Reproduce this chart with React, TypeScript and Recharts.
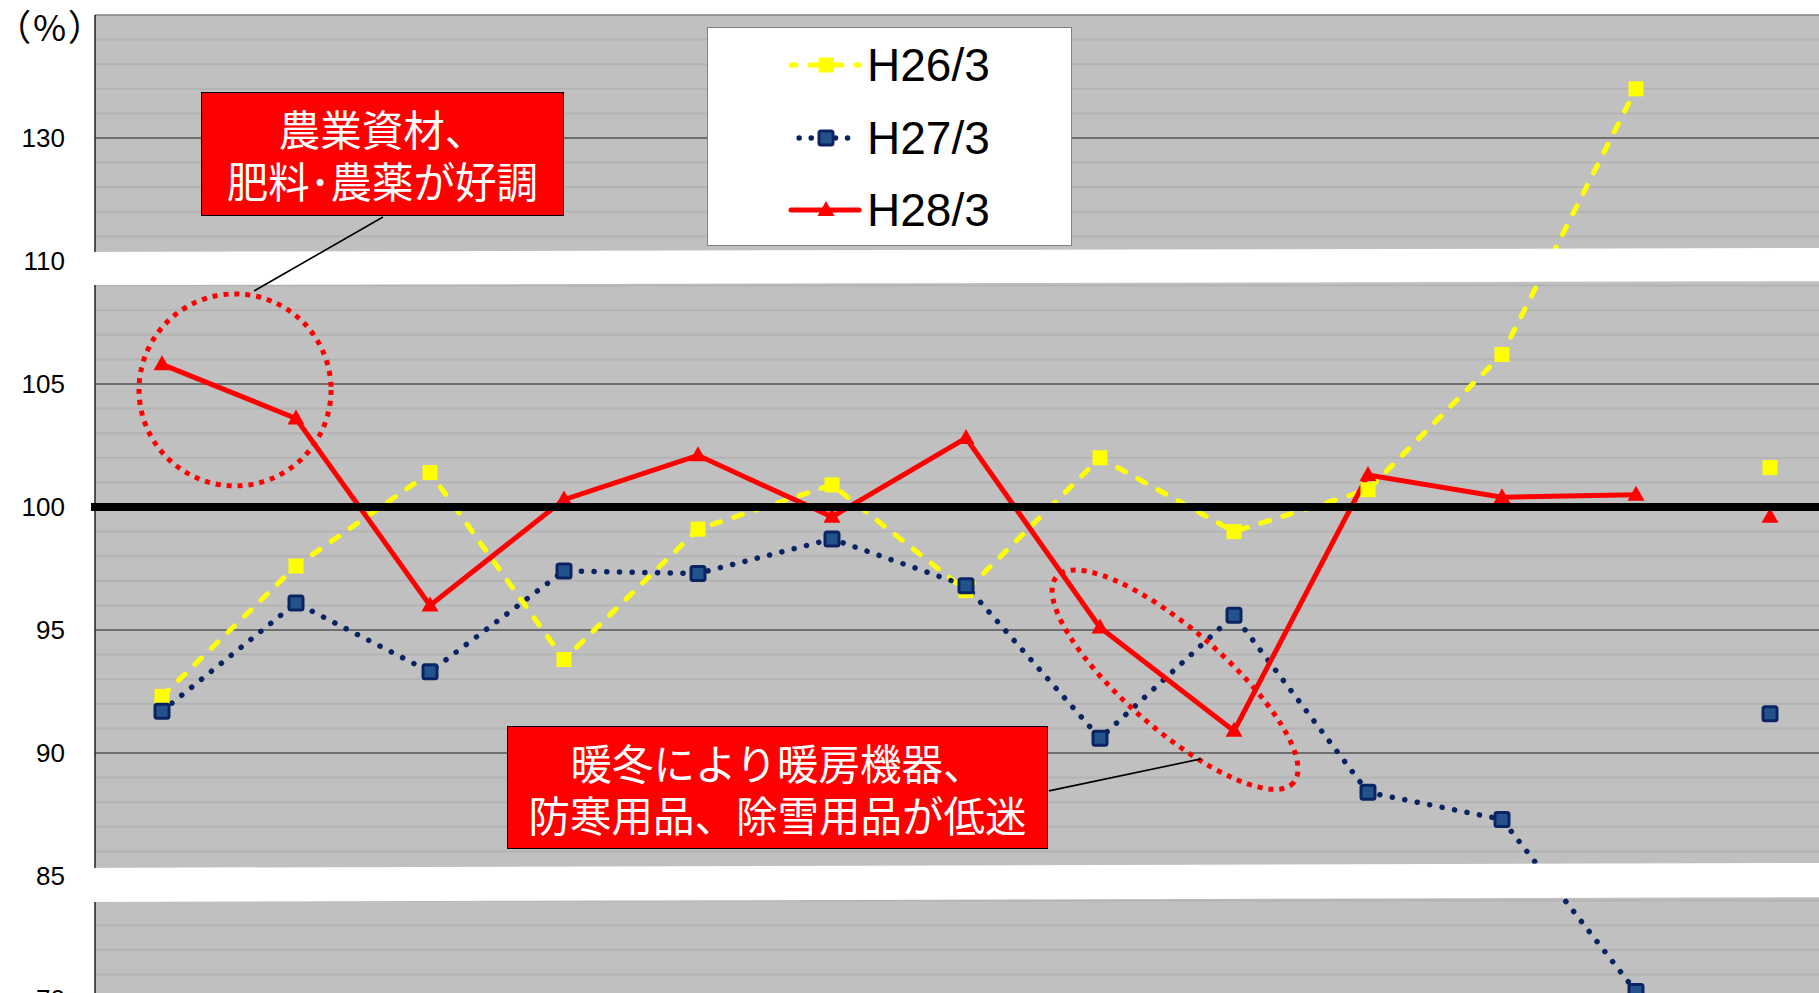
import React from 'react'
import {
  LineChart,
  Line,
  XAxis,
  YAxis,
  CartesianGrid,
  ReferenceLine,
  ReferenceArea,
  ReferenceDot,
  Legend,
} from 'recharts'

// Monthly year-on-year ratios (%), the 13th entry is the fiscal-year total
const CATEGORIES = ['4月', '5月', '6月', '7月', '8月', '9月', '10月', '11月', '12月', '1月', '2月', '3月', '年度']
const H26 = [92.3, 97.6, 101.4, 93.8, 99.1, 100.9, 96.6, 102.0, 99.0, 100.7, 106.2, 138.0, 101.6]
const H27 = [91.7, 96.1, 93.3, 97.4, 97.3, 98.7, 96.8, 90.6, 95.6, 88.4, 87.3, 70.9, 91.6]
const H28 = [105.8, 103.6, 96.0, 100.3, 102.1, 99.6, 102.8, 95.1, 90.9, 101.3, 100.4, 100.5, 99.6]
const Y_TICKS = [130, 110, 105, 100, 95, 90, 85, 70]
const SERIES_NAMES = ['H26/3', 'H27/3', 'H28/3']

// Broken axis: above 110 one step is 4 points, below 85 one step is 3 points
const toAxis = (v: number) => (v > 110 ? 110 + (v - 110) / 4 : v < 85 ? 85 - (85 - v) / 3 : v)
const fromAxis = (a: number) => Math.round(a > 110 ? 110 + (a - 110) * 4 : a < 85 ? 85 - (85 - a) * 3 : a)

const LAST = CATEGORIES.length - 1
const data = CATEGORIES.map((name, k) => ({
  i: k + 1,
  name,
  h26: k < LAST ? toAxis(H26[k]) : null,
  h27: k < LAST ? toAxis(H27[k]) : null,
  h28: k < LAST ? toAxis(H28[k]) : null,
  h26y: k === LAST ? toAxis(H26[k]) : null,
  h27y: k === LAST ? toAxis(H27[k]) : null,
  h28y: k === LAST ? toAxis(H28[k]) : null,
}))

const AXIS_MIN = 78
const AXIS_MAX = 120
const MAJOR = [80, 85, 90, 95, 105, 110, 115]
const MINOR: number[] = []
for (let a = AXIS_MIN + 1; a < AXIS_MAX; a++) if (!MAJOR.includes(a) && a !== 100) MINOR.push(a)

const YELLOW = '#ffff00'
const NAVY = '#0a2463'
const RED = '#ff0000'

const yellowSquare = (cx: number, cy: number) => (
  <rect x={cx - 7.5} y={cy - 7.5} width={15} height={15} fill={YELLOW} />
)
const navySquare = (cx: number, cy: number) => (
  <rect x={cx - 7} y={cy - 7} width={14} height={14} rx={2} fill="#24528c" stroke={NAVY} strokeWidth={3} />
)
const redTriangle = (cx: number, cy: number) => (
  <path d={`M${cx},${cy - 9} L${cx + 8.5},${cy + 6} L${cx - 8.5},${cy + 6} Z`} fill={RED} />
)

const makeDot = (draw: (cx: number, cy: number) => React.ReactElement) => (p: any) => {
  if (p.cx == null || p.cy == null || p.value == null) return <g key={`d${p.index}`} />
  return <g key={`d${p.index}`}>{draw(p.cx, p.cy)}</g>
}

const Band = (tilt: number) => (p: any) => {
  const { x, y, width, height } = p
  return (
    <path
      d={`M${x - 20},${y} L${x + width + 20},${y - tilt} L${x + width + 20},${y + height - tilt} L${x - 20},${y + height} Z`}
      fill="#ffffff"
    />
  )
}

const dottedRed = { fill: 'none', stroke: RED, strokeWidth: 5, strokeDasharray: '5 6' }

const LegendBox = () => {
  const rows = [
    { name: SERIES_NAMES[0], color: YELLOW, dash: '9 14', width: 5, marker: yellowSquare },
    { name: SERIES_NAMES[1], color: NAVY, dash: '0.1 12', width: 5.5, marker: navySquare },
    { name: SERIES_NAMES[2], color: RED, dash: undefined, width: 5, marker: redTriangle },
  ]
  return (
    <div
      style={{
        width: 365,
        height: 219,
        boxSizing: 'border-box',
        background: '#ffffff',
        border: '1.5px solid #808080',
        position: 'relative',
      }}
    >
      {rows.map((r, k) => (
        <div key={r.name} style={{ position: 'absolute', left: 0, top: 10 + k * 72.5, height: 54, width: 365 }}>
          <svg width={160} height={54} style={{ position: 'absolute', left: 0, top: 0 }}>
            <line
              x1={83}
              x2={151}
              y1={27}
              y2={27}
              stroke={r.color}
              strokeWidth={r.width}
              strokeDasharray={r.dash}
              strokeDashoffset={r.dash ? 4 : 0}
              strokeLinecap="round"
            />
            {r.marker(118, 27)}
          </svg>
          <span
            style={{
              position: 'absolute',
              left: 159,
              top: 0,
              lineHeight: '54px',
              fontSize: 46,
              fontFamily: '"Liberation Sans", Arial, sans-serif',
              color: '#000',
            }}
          >
            {r.name}
          </span>
        </div>
      ))}
    </div>
  )
}

const boxStyle: React.CSSProperties = {
  position: 'absolute',
  boxSizing: 'border-box',
  background: RED,
  border: '1.5px solid #000',
  color: '#fff',
  fontFamily: '"Noto Sans CJK JP", sans-serif',
  fontSize: 41.5,
  textAlign: 'center',
  display: 'flex',
  flexDirection: 'column',
  justifyContent: 'center',
}
const boxLine: React.CSSProperties = { height: 52, lineHeight: '52px', whiteSpace: 'nowrap' }

export default function App() {
  return (
    <div
      style={{
        position: 'absolute',
        left: 0,
        top: 0,
        width: 1819,
        height: 993,
        overflow: 'hidden',
        background: '#ffffff',
        fontFamily: '"Liberation Sans", Arial, sans-serif',
      }}
    >
      <LineChart width={1837} height={1055} data={data} margin={{ top: 15, right: 0, bottom: 6.8, left: 0 }}>
        <CartesianGrid
          vertical={false}
          horizontalValues={MINOR}
          stroke="#b3b3b3"
          strokeWidth={2}
          fill="#c0c0c0"
          fillOpacity={1}
        />
        {MAJOR.map((v) => (
          <ReferenceLine key={`m${v}`} y={v} stroke="#555555" strokeWidth={1.3} zIndex={-50} />
        ))}
        <ReferenceLine y={AXIS_MAX} stroke="#808080" strokeWidth={1.5} zIndex={-50} />
        <XAxis type="number" dataKey="i" domain={[0.5, 13.5]} hide allowDataOverflow />
        <YAxis
          type="number"
          domain={[AXIS_MIN, AXIS_MAX]}
          ticks={Y_TICKS.map(toAxis)}
          interval={0}
          width={95}
          allowDataOverflow
          tickLine={false}
          tickMargin={24}
          axisLine={{ stroke: '#222222', strokeWidth: 1.5 }}
          tick={{ fill: '#000', fontSize: 26, fontFamily: '"Liberation Sans", Arial, sans-serif' }}
          tickFormatter={(a: number) => String(fromAxis(a))}
        />
        <Line
          dataKey="h26"
          name={SERIES_NAMES[0]}
          stroke={YELLOW}
          strokeWidth={5}
          strokeDasharray="9 14"
          strokeLinecap="round"
          dot={makeDot(yellowSquare)}
          activeDot={false}
          isAnimationActive={false}
        />
        <Line
          dataKey="h27"
          name={SERIES_NAMES[1]}
          stroke={NAVY}
          strokeWidth={5.5}
          strokeDasharray="0.1 12.6"
          strokeLinecap="round"
          dot={makeDot(navySquare)}
          activeDot={false}
          isAnimationActive={false}
        />
        <Line
          dataKey="h28"
          name={SERIES_NAMES[2]}
          stroke={RED}
          strokeWidth={5}
          dot={makeDot(redTriangle)}
          activeDot={false}
          isAnimationActive={false}
        />
        <Line dataKey="h26y" stroke="none" legendType="none" dot={makeDot(yellowSquare)} activeDot={false} isAnimationActive={false} />
        <Line dataKey="h27y" stroke="none" legendType="none" dot={makeDot(navySquare)} activeDot={false} isAnimationActive={false} />
        <Line dataKey="h28y" stroke="none" legendType="none" dot={makeDot(redTriangle)} activeDot={false} isAnimationActive={false} />

        <ReferenceArea y1={109.02} y2={110.37} ifOverflow="visible" shape={Band(4)} zIndex={700} />
        <ReferenceArea y1={83.94} y2={85.33} ifOverflow="visible" shape={Band(5)} zIndex={700} />
        <ReferenceLine
          segment={[{ x: 0.47, y: 100 }, { x: 13.5, y: 100 }]}
          ifOverflow="visible"
          stroke="#000"
          strokeWidth={8}
          zIndex={800}
        />

        <ReferenceDot
          x={1.545}
          y={104.76}
          ifOverflow="visible"
          zIndex={900}
          shape={(p: any) => <circle cx={p.cx} cy={p.cy} r={96} {...dottedRed} />}
        />
        <ReferenceDot
          x={8.56}
          y={92.98}
          ifOverflow="visible"
          zIndex={900}
          shape={(p: any) => (
            <ellipse cx={p.cx} cy={p.cy} rx={157} ry={50} transform={`rotate(41 ${p.cx} ${p.cy})`} {...dottedRed} />
          )}
        />
        <ReferenceLine
          segment={[{ x: 1.687, y: 108.78 }, { x: 2.649, y: 111.79 }]}
          ifOverflow="visible"
          stroke="#000"
          strokeWidth={1.6}
          zIndex={900}
        />
        <ReferenceLine
          segment={[{ x: 7.619, y: 88.46 }, { x: 8.754, y: 89.76 }]}
          ifOverflow="visible"
          stroke="#000"
          strokeWidth={1.6}
          zIndex={900}
        />

        <Legend
          layout="horizontal"
          align="center"
          verticalAlign="middle"
          content={() => <LegendBox />}
          wrapperStyle={{ position: 'absolute', left: 707, top: 27, width: 365, height: 219, margin: 0 }}
        />
      </LineChart>

      <div
        style={{
          position: 'absolute',
          left: 12,
          top: 3,
          fontSize: 36,
          lineHeight: '44px',
          letterSpacing: 3,
          fontFeatureSettings: '"palt"',
          fontFamily: '"Noto Sans CJK JP", sans-serif',
          color: '#000',
          whiteSpace: 'nowrap',
        }}
      >
        （%）
      </div>

      <div style={{ ...boxStyle, left: 201, top: 92, width: 363, height: 124 }}>
        <div style={boxLine}>農業資材、</div>
        <div style={boxLine}>肥料･農薬が好調</div>
      </div>
      <div style={{ ...boxStyle, left: 507, top: 726, width: 541, height: 123 }}>
        <div style={boxLine}>暖冬により暖房機器、</div>
        <div style={boxLine}>防寒用品、除雪用品が低迷</div>
      </div>
    </div>
  )
}
